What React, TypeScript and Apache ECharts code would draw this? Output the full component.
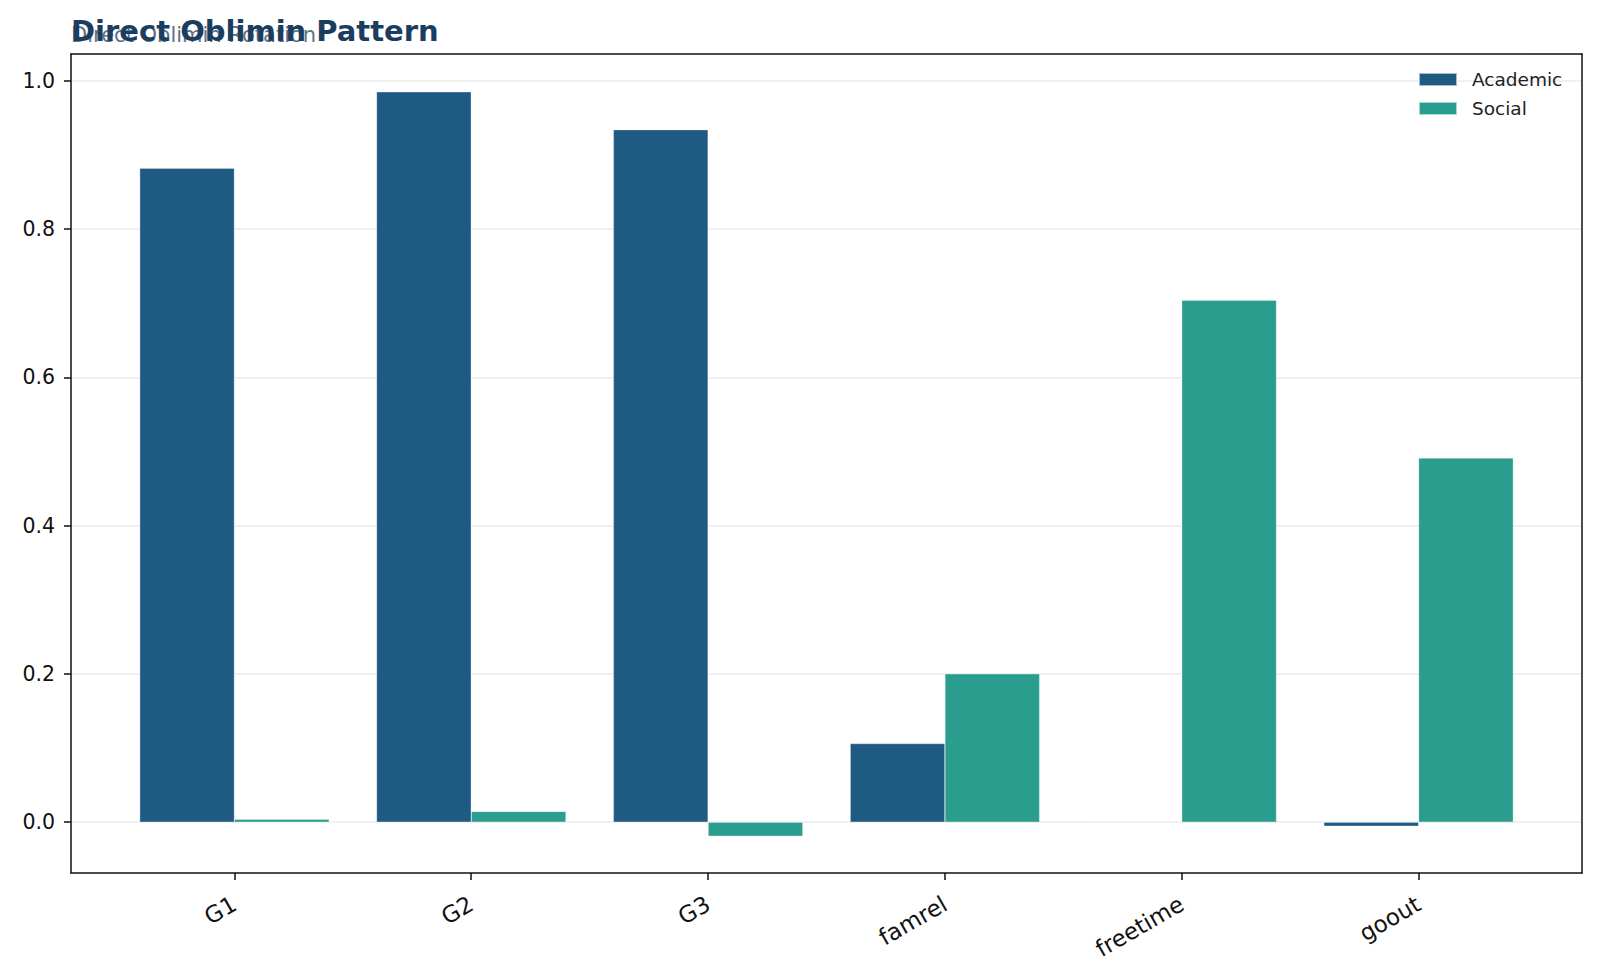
import { useEffect, useRef } from 'react';
import * as echarts from 'echarts';

const categories = ['G1', 'G2', 'G3', 'famrel', 'freetime', 'goout'];
const academic = [0.882, 0.985, 0.934, 0.106, 0.0, -0.0055];
const social = [0.004, 0.0145, -0.019, 0.2, 0.704, 0.491];
const yTicks = [0, 0.2, 0.4, 0.6, 0.8, 1.0];
const xTicks = categories.map((_, i) => i);

const FONT = 'DejaVu Sans';
const Y_MIN = -0.0686;
const Y_MAX = 1.036;
const X_MIN = -0.69;
const X_MAX = 5.69;

export default function App() {
  const chartRef = useRef<HTMLDivElement>(null);

  useEffect(() => {
    if (!chartRef.current) return;
    const chart = echarts.init(chartRef.current, undefined, { renderer: 'svg' });

    const barStyle = (color: string) => ({
      color,
      borderColor: 'rgba(255,255,255,0.6)',
      borderWidth: 0.5,
    });

    const option: echarts.EChartsOption = {
      animation: false,
      backgroundColor: '#ffffff',
      textStyle: { fontFamily: FONT },
      title: [
        {
          text: 'Direct Oblimin Rotation',
          left: 71,
          top: 24,
          padding: 0,
          textStyle: { fontFamily: FONT, fontSize: 21, fontWeight: 'normal', color: '#5f7387' },
        },
        {
          text: 'Direct Oblimin Pattern',
          left: 71,
          top: 16,
          padding: 0,
          textStyle: { fontFamily: FONT, fontSize: 29, fontWeight: 'bold', color: '#1b3d5e' },
        },
      ],
      legend: {
        orient: 'vertical',
        left: 1413,
        top: 65,
        itemWidth: 38,
        itemHeight: 13,
        itemGap: 10,
        icon: 'rect',
        textStyle: { fontFamily: FONT, fontSize: 18.5, color: '#222', lineHeight: 19, padding: [0, 0, 0, 10] },
        data: ['Academic', 'Social'],
      },
      grid: { left: 71, right: 18, top: 54, bottom: 105 },
      xAxis: [
        {
          type: 'value',
          min: X_MIN,
          max: X_MAX,
          axisLine: { show: true, onZero: false, lineStyle: { color: '#111', width: 1.5 } },
          axisTick: { show: true, length: 7, customValues: xTicks, lineStyle: { color: '#111', width: 1.5 } },
          axisLabel: {
            customValues: xTicks,
            rotate: 30,
            margin: 29,
            fontFamily: FONT,
            fontSize: 23,
            color: '#111',
            formatter: (v: number) => categories[Math.round(v)] ?? '',
          },
          splitLine: { show: false },
        },
        {
          type: 'value',
          position: 'top',
          min: X_MIN,
          max: X_MAX,
          axisLine: { show: true, onZero: false, lineStyle: { color: '#111', width: 1.5 } },
          axisTick: { show: false },
          axisLabel: { show: false },
          splitLine: { show: false },
        },
      ],
      yAxis: [
        {
          type: 'value',
          min: Y_MIN,
          max: Y_MAX,
          axisLine: { show: true, onZero: false, lineStyle: { color: '#111', width: 1.5 } },
          axisTick: { show: true, length: 7, customValues: yTicks, lineStyle: { color: '#111', width: 1.5 } },
          axisLabel: {
            customValues: yTicks,
            margin: 16,
            fontFamily: FONT,
            fontSize: 20.5,
            color: '#111',
            formatter: (v: number) => v.toFixed(1),
          },
          splitLine: { show: true, lineStyle: { color: '#ebebeb', width: 1.5 } },
        },
        {
          type: 'value',
          position: 'right',
          min: Y_MIN,
          max: Y_MAX,
          axisLine: { show: true, onZero: false, lineStyle: { color: '#111', width: 1.5 } },
          axisTick: { show: false },
          axisLabel: { show: false },
          splitLine: { show: false },
        },
      ],
      series: [
        {
          name: 'Academic',
          type: 'bar',
          xAxisIndex: 0,
          yAxisIndex: 0,
          barGap: '0%',
          barCategoryGap: '20%',
          itemStyle: barStyle('#1f5a82'),
          data: academic.map((v, i) => [i, v]),
        },
        {
          name: 'Social',
          type: 'bar',
          xAxisIndex: 0,
          yAxisIndex: 0,
          barGap: '0%',
          barCategoryGap: '20%',
          itemStyle: barStyle('#2a9d8f'),
          data: social.map((v, i) => [i, v]),
        },
      ],
    };

    chart.setOption(option);

    const handleResize = () => chart.resize();
    window.addEventListener('resize', handleResize);
    return () => {
      window.removeEventListener('resize', handleResize);
      chart.dispose();
    };
  }, []);

  return (
    <div
      ref={chartRef}
      style={{ position: 'fixed', left: 0, top: 0, width: '1600px', height: '978px', background: '#fff' }}
    ></div>
  );
}
